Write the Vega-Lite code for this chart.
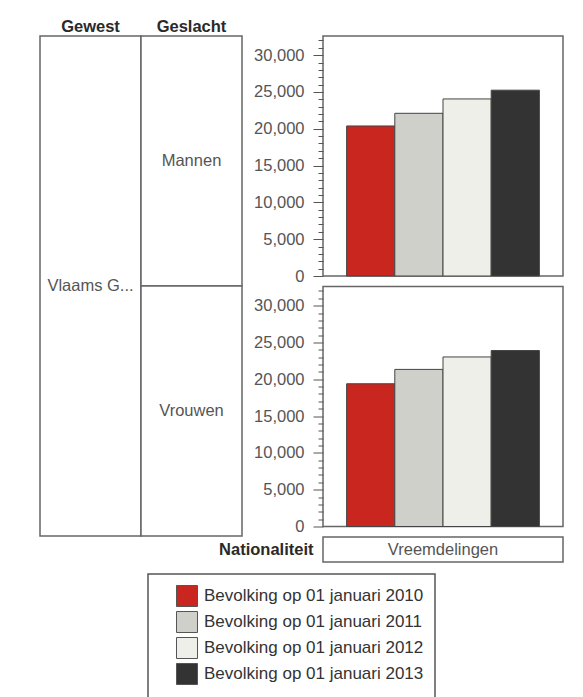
{
  "$schema": "https://vega.github.io/schema/vega-lite/v6.json",
  "padding": {"left": 39, "top": 18, "right": 10, "bottom": 0},
  "background": "white",
  "data": {
    "values": [
      {"Gewest": "Vlaams Gewest", "Geslacht": "Mannen", "Nationaliteit": "Vreemdelingen", "Peildatum": "Bevolking op 01 januari 2010", "Bevolking": 20380},
      {"Gewest": "Vlaams Gewest", "Geslacht": "Mannen", "Nationaliteit": "Vreemdelingen", "Peildatum": "Bevolking op 01 januari 2011", "Bevolking": 22100},
      {"Gewest": "Vlaams Gewest", "Geslacht": "Mannen", "Nationaliteit": "Vreemdelingen", "Peildatum": "Bevolking op 01 januari 2012", "Bevolking": 24050},
      {"Gewest": "Vlaams Gewest", "Geslacht": "Mannen", "Nationaliteit": "Vreemdelingen", "Peildatum": "Bevolking op 01 januari 2013", "Bevolking": 25240},
      {"Gewest": "Vlaams Gewest", "Geslacht": "Vrouwen", "Nationaliteit": "Vreemdelingen", "Peildatum": "Bevolking op 01 januari 2010", "Bevolking": 19390},
      {"Gewest": "Vlaams Gewest", "Geslacht": "Vrouwen", "Nationaliteit": "Vreemdelingen", "Peildatum": "Bevolking op 01 januari 2011", "Bevolking": 21340},
      {"Gewest": "Vlaams Gewest", "Geslacht": "Vrouwen", "Nationaliteit": "Vreemdelingen", "Peildatum": "Bevolking op 01 januari 2012", "Bevolking": 23030},
      {"Gewest": "Vlaams Gewest", "Geslacht": "Vrouwen", "Nationaliteit": "Vreemdelingen", "Peildatum": "Bevolking op 01 januari 2013", "Bevolking": 23900}
    ]
  },
  "spacing": 81,
  "bounds": "flush",
  "resolve": {"scale": {"color": "shared"}, "legend": {"color": "shared"}},
  "hconcat": [
    {
      "width": 202,
      "height": 500,
      "view": {"stroke": null},
      "layer": [
        {
          "transform": [{"aggregate": [{"op": "sum", "field": "Bevolking", "as": "totaal"}], "groupby": ["Gewest"]}],
          "mark": {"type": "rect", "fill": "white", "stroke": "#666", "strokeWidth": 1.5},
          "encoding": {
            "x": {
              "datum": "Gewest",
              "type": "nominal",
              "scale": {"type": "band", "domain": ["Gewest", "Geslacht"], "paddingInner": 0, "paddingOuter": 0},
              "axis": {
                "orient": "top",
                "title": null,
                "domain": false,
                "ticks": false,
                "grid": false,
                "labelAngle": 0,
                "labelFont": "Liberation Sans",
                "labelFontSize": 16.5,
                "labelFontWeight": "bold",
                "labelColor": "#2a2a2a",
                "labelBaseline": "alphabetic",
                "labelPadding": 4.5
              }
            }
          }
        },
        {
          "transform": [{"aggregate": [{"op": "sum", "field": "Bevolking", "as": "totaal"}], "groupby": ["Geslacht"]}],
          "mark": {"type": "rect", "fill": "white", "stroke": "#666", "strokeWidth": 1.5},
          "encoding": {
            "x": {"datum": "Geslacht", "type": "nominal"},
            "y": {
              "field": "Geslacht",
              "type": "nominal",
              "sort": ["Mannen", "Vrouwen"],
              "scale": {"type": "band", "paddingInner": 0, "paddingOuter": 0},
              "axis": null
            }
          }
        },
        {
          "transform": [{"aggregate": [{"op": "sum", "field": "Bevolking", "as": "totaal"}], "groupby": ["Gewest"]}],
          "mark": {"type": "text", "font": "Liberation Sans", "fontSize": 16.5, "color": "#555", "limit": 90, "ellipsis": "...", "baseline": "middle"},
          "encoding": {
            "x": {"datum": "Gewest", "type": "nominal"},
            "text": {"field": "Gewest"}
          }
        },
        {
          "transform": [{"aggregate": [{"op": "sum", "field": "Bevolking", "as": "totaal"}], "groupby": ["Geslacht"]}],
          "mark": {"type": "text", "font": "Liberation Sans", "fontSize": 16.5, "color": "#555", "baseline": "middle"},
          "encoding": {
            "x": {"datum": "Geslacht", "type": "nominal"},
            "y": {"field": "Geslacht", "type": "nominal", "sort": ["Mannen", "Vrouwen"]},
            "text": {"field": "Geslacht"}
          }
        }
      ]
    },
    {
      "spacing": 10.5,
      "bounds": "flush",
      "resolve": {"scale": {"color": "shared"}, "legend": {"color": "shared"}},
      "vconcat": [
        {
          "width": 240,
          "height": 240,
          "transform": [{"filter": "datum.Geslacht === 'Mannen'"}],
          "mark": {"type": "bar", "stroke": "#444", "strokeWidth": 1},
          "encoding": {
            "x": {
              "field": "Peildatum",
              "type": "nominal",
              "scale": {"paddingInner": 0, "paddingOuter": 0.49},
              "axis": null
            },
            "y": {
              "field": "Bevolking",
              "type": "quantitative",
              "scale": {"domain": [0, 32600], "nice": false},
              "axis": {
                "title": null,
                "grid": false,
                "domain": false,
                "values": [0, 1000, 2000, 3000, 4000, 5000, 6000, 7000, 8000, 9000, 10000, 11000, 12000, 13000, 14000, 15000, 16000, 17000, 18000, 19000, 20000, 21000, 22000, 23000, 24000, 25000, 26000, 27000, 28000, 29000, 30000, 31000, 32000],
                "format": ",d",
                "labelExpr": "datum.value % 5000 === 0 ? datum.label : ''",
                "labelFont": "Liberation Sans",
                "labelFontSize": 16.5,
                "labelColor": "#555",
                "labelPadding": 9,
                "labelOverlap": false,
                "labelBound": false,
                "labelFlush": false,
                "tickColor": "#555",
                "tickWidth": 1,
                "tickSize": {"condition": {"test": "datum.value % 5000 === 0", "value": 10}, "value": 5}
              }
            },
            "color": {
              "field": "Peildatum",
              "type": "nominal",
              "scale": {
                "domain": ["Bevolking op 01 januari 2010", "Bevolking op 01 januari 2011", "Bevolking op 01 januari 2012", "Bevolking op 01 januari 2013"],
                "range": ["#c8261f", "#d0d0cb", "#efefe9", "#333333"]
              },
              "legend": {
                "title": null,
                "orient": "none",
                "legendX": 108,
                "legendY": 538,
                "direction": "vertical",
                "symbolType": "square",
                "symbolSize": 441,
                "symbolStrokeColor": "#555",
                "symbolStrokeWidth": 1,
                "symbolOpacity": 1,
                "symbolOffset": 17,
                "labelOffset": 6,
                "labelFont": "Liberation Sans",
                "labelFontSize": 17,
                "labelColor": "#333",
                "labelLimit": 400,
                "rowPadding": 0,
                "padding": 11,
                "strokeColor": "#555",
                "fillColor": "white"
              }
            }
          }
        },
        {
          "width": 240,
          "height": 240,
          "transform": [{"filter": "datum.Geslacht === 'Vrouwen'"}],
          "mark": {"type": "bar", "stroke": "#444", "strokeWidth": 1},
          "encoding": {
            "x": {
              "field": "Peildatum",
              "type": "nominal",
              "scale": {"paddingInner": 0, "paddingOuter": 0.49},
              "axis": null
            },
            "y": {
              "field": "Bevolking",
              "type": "quantitative",
              "scale": {"domain": [0, 32600], "nice": false},
              "axis": {
                "title": null,
                "grid": false,
                "domain": false,
                "values": [0, 1000, 2000, 3000, 4000, 5000, 6000, 7000, 8000, 9000, 10000, 11000, 12000, 13000, 14000, 15000, 16000, 17000, 18000, 19000, 20000, 21000, 22000, 23000, 24000, 25000, 26000, 27000, 28000, 29000, 30000, 31000, 32000],
                "format": ",d",
                "labelExpr": "datum.value % 5000 === 0 ? datum.label : ''",
                "labelFont": "Liberation Sans",
                "labelFontSize": 16.5,
                "labelColor": "#555",
                "labelPadding": 9,
                "labelOverlap": false,
                "labelBound": false,
                "labelFlush": false,
                "tickColor": "#555",
                "tickWidth": 1,
                "tickSize": {"condition": {"test": "datum.value % 5000 === 0", "value": 10}, "value": 5}
              }
            },
            "color": {
              "field": "Peildatum",
              "type": "nominal",
              "legend": null
            }
          }
        },
        {
          "width": 240,
          "height": 25,
          "transform": [{"aggregate": [{"op": "sum", "field": "Bevolking", "as": "totaal"}], "groupby": ["Nationaliteit"]}],
          "mark": {"type": "text", "font": "Liberation Sans", "fontSize": 16.5, "color": "#555", "baseline": "middle"},
          "encoding": {
            "y": {
              "field": "Nationaliteit",
              "type": "nominal",
              "axis": {
                "labels": false,
                "ticks": false,
                "domain": false,
                "grid": false,
                "title": "Nationaliteit",
                "titleAngle": 0,
                "titleAlign": "right",
                "titleBaseline": "middle",
                "titleX": -10,
                "titleY": 12.5,
                "titleFont": "Liberation Sans",
                "titleFontSize": 16.5,
                "titleFontWeight": "bold",
                "titleColor": "#2a2a2a"
              }
            },
            "text": {"field": "Nationaliteit"}
          }
        }
      ]
    }
  ],
  "config": {
    "view": {"stroke": "#666", "strokeWidth": 1.5},
    "font": "Liberation Sans",
    "legend": {"strokeWidth": 1.5}
  }
}
